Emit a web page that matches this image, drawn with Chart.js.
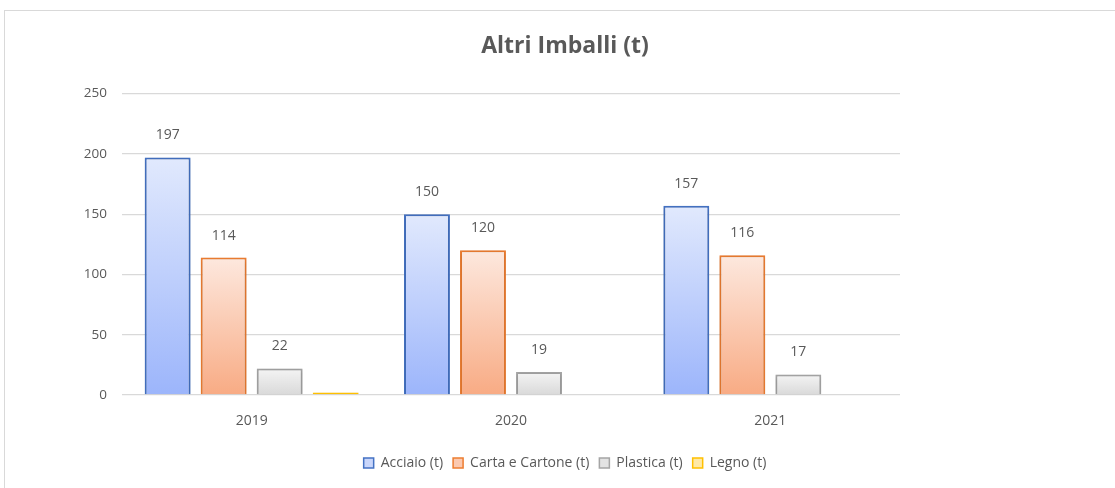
<!DOCTYPE html>
<html>
<head>
<meta charset="utf-8">
<title>Altri Imballi (t)</title>
<script src="https://cdn.jsdelivr.net/npm/chart.js@4.4.1/dist/chart.umd.min.js"></script>
<style>
  html, body { margin: 0; padding: 0; background: #fff; overflow: hidden; }
  #frame { position: absolute; left: 4px; top: 10px; border: 1px solid #d9d9d9; width: 1120px; height: 490px; }
  #chart { display: block; }
</style>
</head>
<body>
<div id="frame">
  <canvas id="chart" width="1120" height="478"></canvas>
</div>
<script>
const categories = ["2019", "2020", "2021"]
const acciaio = [197, 150, 157]
const carta = [114, 120, 116]
const plastica = [22, 19, 17]
const legno = [2, null, null]
const seriesNames = ["Acciaio (t)", "Carta e Cartone (t)", "Plastica (t)", "Legno (t)"]

const FONT = "'Open Sans', sans-serif"
const TEXT = "#595959"

// each bar gets its own top-to-bottom gradient, like the office chart
function barGradient(top, bottom) {
    return (c) => {
        const chart = c.chart
        if (!chart.chartArea || c.raw == null) return bottom
        const y = chart.scales.y
        const y0 = y.getPixelForValue(c.raw)
        const y1 = y.getPixelForValue(0)
        if (y1 - y0 < 4) return bottom
        const g = chart.ctx.createLinearGradient(0, y0, 0, y1)
        g.addColorStop(0, top)
        g.addColorStop(1, bottom)
        return g
    }
}

const barShadow = {
    id: "barShadow",
    beforeDatasetsDraw(chart) {
        const ctx = chart.ctx
        ctx.save()
        ctx.shadowColor = "rgba(0,0,0,0.18)"
        ctx.shadowBlur = 4
        ctx.shadowOffsetY = 1
    },
    afterDatasetsDraw(chart) {
        chart.ctx.restore()
    }
}

const valueLabels = {
    id: "valueLabels",
    afterDatasetsDraw(chart) {
        const ctx = chart.ctx
        ctx.save()
        ctx.font = "14px " + FONT
        ctx.fillStyle = TEXT
        ctx.textAlign = "center"
        ctx.textBaseline = "middle"
        chart.data.datasets.forEach((ds, i) => {
            if (ds.noLabel) return
            chart.getDatasetMeta(i).data.forEach((bar, j) => {
                const v = ds.data[j]
                if (v == null) return
                ctx.fillText(v, bar.x, bar.y - 22)
            })
        })
        ctx.restore()
    }
}

const borders = ["#4472c4", "#ed7d31", "#a5a5a5", "#ffc000"]
const lightFill = ["#c9d6fb", "#fbc9b0", "#e3e3e3", "#ffe9a6"]

const chart = new Chart(document.getElementById("chart"), {
    type: "bar",
    data: {
        labels: categories,
        datasets: [
            { label: seriesNames[0], data: acciaio, borderColor: borders[0], backgroundColor: barGradient("#e1e9fd", "#9cb5fb") },
            { label: seriesNames[1], data: carta, borderColor: borders[1], backgroundColor: barGradient("#fde8de", "#f8ab84") },
            { label: seriesNames[2], data: plastica, borderColor: borders[2], backgroundColor: barGradient("#f4f4f4", "#d9d9d9") },
            { label: seriesNames[3], data: legno, borderColor: borders[3], backgroundColor: barGradient("#fff2cc", "#ffc000"), borderSkipped: false, noLabel: true }
        ]
    },
    options: {
        responsive: false,
        animation: false,
        devicePixelRatio: 1,
        datasets: {
            bar: { borderWidth: 2, categoryPercentage: 0.864, barPercentage: 0.82 }
        },
        layout: { padding: { top: 0, bottom: 9, left: 0, right: 0 } },
        scales: {
            x: {
                grid: { display: false },
                border: { display: false },
                ticks: { color: TEXT, font: { family: FONT, size: 14 }, padding: 10 },
                afterFit: (s) => { s.height = 51 }
            },
            y: {
                min: 0,
                max: 250,
                ticks: { stepSize: 50, color: TEXT, font: { family: FONT, size: 13.5 }, padding: 15 },
                grid: { color: "#d9d9d9", lineWidth: 1.3, drawTicks: false },
                border: { display: false },
                afterFit: (s) => { s.width = 117 }
            },
            // empty axis only to keep the plot away from the right edge
            spacer: {
                type: "linear",
                position: "right",
                display: true,
                grid: { display: false },
                border: { display: false },
                ticks: { display: false },
                afterFit: (s) => { s.width = 225 }
            }
        },
        plugins: {
            title: {
                display: true,
                text: "Altri Imballi (t)",
                color: TEXT,
                font: { family: FONT, size: 23, weight: "bold" },
                padding: { top: 22, bottom: 33 }
            },
            legend: {
                position: "bottom",
                labels: {
                    color: TEXT,
                    font: { family: FONT, size: 14 },
                    boxWidth: 10,
                    boxHeight: 10,
                    padding: 10,
                    generateLabels: (chart) => chart.data.datasets.map((ds, i) => ({
                        text: ds.label,
                        fillStyle: lightFill[i],
                        strokeStyle: borders[i],
                        lineWidth: 1.5,
                        fontColor: TEXT,
                        datasetIndex: i,
                        hidden: false
                    }))
                }
            },
            tooltip: { enabled: false }
        }
    },
    plugins: [barShadow, valueLabels]
})
</script>
</body>
</html>
